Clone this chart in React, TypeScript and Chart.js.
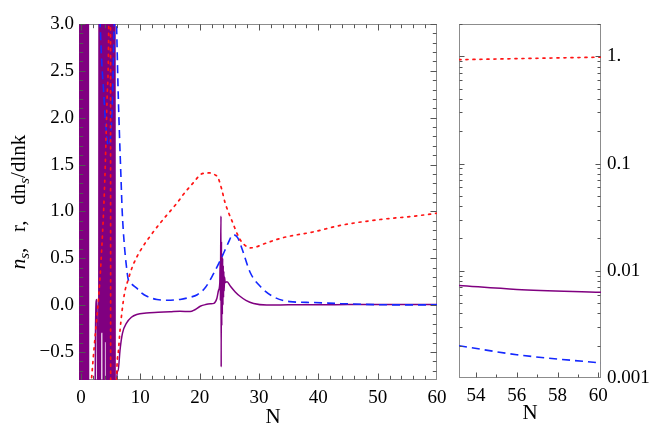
import { useEffect, useRef } from "react"
import { Chart, registerables } from "chart.js"
import type { ChartConfiguration, Plugin } from "chart.js"

Chart.register(...registerables)

// ---- left panel: whole run, N from 0 to 60 ----
// n_s (red, dotted)
const nsX = [1.7, 2.2, 2.55, 3.0, 3.5, 4.0, 4.4, 4.7, 4.95, 5.05, 6.0, 6.3, 6.6, 7.3, 8.0, 8.8, 10.0, 11.6, 13.8, 16.2, 17.5, 19.0, 20.1, 21.0, 21.8, 22.6, 23.1, 23.7, 24.3, 25.5, 26.8, 27.6, 28.5, 29.5, 30.7, 34.1, 39.1, 43.7, 50, 56.3, 60]
const nsY = [-0.85, -0.47, -0.22, 0.1, 0.6, 1.3, 2.2, 3.2, 8, -8, -0.82, -0.5, -0.26, 0.11, 0.28, 0.43, 0.58, 0.73, 0.91, 1.09, 1.2, 1.31, 1.39, 1.41, 1.41, 1.39, 1.36, 1.24, 1.09, 0.89, 0.7, 0.64, 0.61, 0.62, 0.65, 0.72, 0.78, 0.85, 0.91, 0.95, 0.98]

// r (blue, dashed)
const rX = [3.2, 3.5, 3.8, 4.2, 4.6, 5.0, 5.3, 5.6, 5.8, 6.0, 6.3, 6.5, 6.75, 6.95, 7.3, 7.65, 7.98, 8.6, 9.4, 10.2, 11.1, 12.8, 14.5, 16.7, 18.2, 19.6, 21.0, 22.3, 23.8, 24.8, 25.6, 26.4, 27.2, 28.5, 30.2, 32.4, 35.2, 39.1, 43.7, 50, 55, 60]
const rY = [3.05, 2.6, 2.3, 1.9, 1.7, 1.8, 2.2, 3.0, 3.6, 3.0, 2.2, 1.8, 1.35, 1.0, 0.65, 0.42, 0.27, 0.22, 0.18, 0.13, 0.094, 0.059, 0.052, 0.06, 0.08, 0.11, 0.19, 0.33, 0.52, 0.66, 0.75, 0.72, 0.59, 0.35, 0.2, 0.09, 0.037, 0.027, 0.016, 0.004, 0.0018, 0.0014]

// dn_s/dlnk (purple, solid) - wild oscillations at small N and near N = 23.6
const dnsX = [
  -0.33, -0.27, -0.2, -0.14, -0.06, 0.0, 0.08, 0.16, 0.22, 0.3, 0.4, 0.48, 0.56, 0.66, 0.74, 0.84, 0.9, 0.97,
  1.22, 1.32,
  2.2, 2.45, 2.62, 2.78, 2.95,
  3.12, 3.22, 3.38, 3.5, 3.62, 3.85, 3.98, 4.1, 4.22, 4.34, 4.44, 4.54, 4.62, 4.72, 4.82, 4.92, 5.02, 5.12, 5.22, 5.3, 5.38, 5.46, 5.54, 5.62, 5.7, 5.8,
  6.0, 6.25, 6.6, 7.0, 7.7, 8.5, 9.4, 11.0, 13.0, 15.0, 16.7, 18.4, 19.2, 20.1, 21.0, 21.8, 22.4, 22.9, 23.2, 23.4,
  23.45, 23.5, 23.55, 23.6, 23.63, 23.68, 23.73, 23.78, 23.83, 23.88, 23.93, 23.98, 24.03, 24.08, 24.13, 24.2, 24.3,
  24.6, 25.2, 26.0, 26.8, 27.8, 29.1, 31.3, 35, 40, 45, 50, 55, 60,
]
const dnsY = [
  8, -8, 8, -8, 8, -8, 8, -8, 8, -8, 8, -8, 8, -8, 8, -8, 8, -8,
  8, -8,
  -3, -0.3, 0.06, -0.45, -3,
  8, -8, 8, -0.3, 8, -8, 8, -0.4, 8, -8, 8, -8, 8, -8, 8, -8, 8, -8, 8, -8, 8, -8, 8, -8, 8, -8,
  -0.82, -0.7, -0.47, -0.3, -0.19, -0.13, -0.1, -0.085, -0.078, -0.072, -0.066, -0.07, -0.05, -0.013, 0.005, 0.013, 0.018, 0.07, 0.16, 0.24,
  0.45, 0.05, 0.6, 0.95, -0.66, 0.68, -0.22, 0.55, -0.1, 0.5, 0.0, 0.42, 0.08, 0.36, 0.15, 0.3, 0.24,
  0.25, 0.2, 0.14, 0.094, 0.05, 0.016, 0.0, 0.002, 0.004, 0.005, 0.007, 0.007, 0.0063,
]

const leftXTicks = [0, 10, 20, 30, 40, 50, 60]
const leftYTicks = [-0.5, 0, 0.5, 1, 1.5, 2, 2.5, 3]

// ---- right panel: last e-folds on a log scale ----
const zNsX = [53.17, 56.3, 60.13]
const zNsY = [0.93, 0.953, 0.982]
const zRX = [53.17, 56, 60.13]
const zRY = [0.002, 0.00165, 0.00138]
const zDnsX = [53.17, 56, 60.13]
const zDnsY = [0.0073, 0.0067, 0.0063]

const rightXTicks = [54, 56, 58, 60]
const rightYTicks = [0.001, 0.01, 0.1, 1]
const rightYLabels = ["0.001", "0.01", "0.1", "1."]

const serif = "'Liberation Serif', 'Times New Roman', serif"
const tickFont = { family: serif, size: 19 }
const RED = "rgb(255, 20, 20)"
const BLUE = "rgb(20, 40, 255)"
const PURPLE = "rgb(128, 0, 128)"

const xy = (xs: number[], ys: number[]) => xs.map((x, i) => ({ x, y: ys[i] }))

function range(from: number, to: number, step: number) {
  const out: number[] = []
  for (let v = from; v <= to + 1e-9; v += step) out.push(+v.toFixed(4))
  return out
}

type Ticks = { major: number[]; minor: number[] }
type FrameSpec = { top?: Ticks; bottom?: Ticks; left?: Ticks; right?: Ticks }

// Mathematica style frame with inward ticks
function framePlugin(spec: FrameSpec, majorLen: number, minorLen: number): Plugin<"line"> {
  return {
    id: "frame",
    beforeDatasetsDraw(chart) {
      const { ctx, chartArea: a } = chart
      ctx.save()
      ctx.strokeStyle = "#8c8c8c"
      ctx.lineWidth = 1
      ctx.strokeRect(a.left + 0.5, a.top + 0.5, a.width - 1, a.height - 1)
      ctx.restore()
    },
    afterDatasetsDraw(chart) {
      const { ctx, chartArea: a, scales } = chart
      const sx = scales.x
      const sy = scales.y
      ctx.save()
      ctx.strokeStyle = "#555"
      ctx.lineWidth = 1
      ctx.beginPath()
      const vert = (t: Ticks | undefined, y0: number, dir: number) => {
        if (!t) return
        const groups: [number[], number][] = [[t.major, majorLen], [t.minor, minorLen]]
        for (const [vals, len] of groups)
          for (const v of vals) {
            const px = Math.round(sx.getPixelForValue(v)) + 0.5
            if (px < a.left || px > a.right) continue
            ctx.moveTo(px, y0)
            ctx.lineTo(px, y0 + dir * len)
          }
      }
      const horiz = (t: Ticks | undefined, x0: number, dir: number) => {
        if (!t) return
        const groups: [number[], number][] = [[t.major, majorLen], [t.minor, minorLen]]
        for (const [vals, len] of groups)
          for (const v of vals) {
            const py = Math.round(sy.getPixelForValue(v)) + 0.5
            if (py < a.top || py > a.bottom) continue
            ctx.moveTo(x0, py)
            ctx.lineTo(x0 + dir * len, py)
          }
      }
      vert(spec.bottom, a.bottom - 0.5, -1)
      vert(spec.top, a.top + 0.5, 1)
      horiz(spec.left, a.left + 0.5, 1)
      horiz(spec.right, a.right - 0.5, -1)
      ctx.stroke()
      ctx.restore()
    },
  }
}

type Label = { text: string; x: number; y: number }
function labelPlugin(labels: Label[]): Plugin<"line"> {
  return {
    id: "labels",
    afterDraw(chart) {
      const { ctx } = chart
      ctx.save()
      ctx.fillStyle = "#000"
      ctx.font = `21px ${serif}`
      ctx.textAlign = "center"
      ctx.textBaseline = "middle"
      for (const l of labels) ctx.fillText(l.text, l.x, l.y)
      ctx.restore()
    },
  }
}

// rotated y title "n_s,   r,   dn_s/dlnk" with real subscripts
const yTitlePlugin: Plugin<"line"> = {
  id: "yTitle",
  afterDraw(chart) {
    const { ctx, chartArea: a } = chart
    const parts = [
      { t: "n", f: `italic 21px ${serif}`, dy: 0 },
      { t: "s", f: `italic 15px ${serif}`, dy: 4 },
      { t: ",   r,   dn", f: `21px ${serif}`, dy: 0 },
      { t: "s", f: `italic 15px ${serif}`, dy: 4 },
      { t: "/dlnk", f: `21px ${serif}`, dy: 0 },
    ]
    ctx.save()
    ctx.fillStyle = "#000"
    ctx.textBaseline = "alphabetic"
    let total = 0
    for (const p of parts) {
      ctx.font = p.f
      total += ctx.measureText(p.t).width
    }
    ctx.translate(25, (a.top + a.bottom) / 2)
    ctx.rotate(-Math.PI / 2)
    let x = -total / 2
    for (const p of parts) {
      ctx.font = p.f
      ctx.fillText(p.t, x, p.dy)
      x += ctx.measureText(p.t).width
    }
    ctx.restore()
  },
}

const lineStyles = {
  ns: { borderColor: RED, borderWidth: 1.7, borderDash: [2, 5], borderCapStyle: "round" as const },
  r: { borderColor: BLUE, borderWidth: 1.6, borderDash: [8, 5] },
  dns: { borderColor: PURPLE, borderWidth: 1.5 },
}

function leftConfig(): ChartConfiguration<"line"> {
  const logMinor: number[] = []
  return {
    type: "line",
    data: {
      datasets: [
        { label: "n_s", data: xy(nsX, nsY), ...lineStyles.ns },
        { label: "r", data: xy(rX, rY), ...lineStyles.r },
        { label: "dn_s/dlnk", data: xy(dnsX, dnsY), ...lineStyles.dns },
      ],
    },
    options: {
      animation: false,
      responsive: true,
      maintainAspectRatio: false,
      events: [],
      layout: { padding: { left: 0, top: 24, right: 21, bottom: 0 } },
      elements: {
        point: { radius: 0 },
        line: { cubicInterpolationMode: "monotone", capBezierPoints: false },
      },
      plugins: { legend: { display: false }, tooltip: { enabled: false } },
      scales: {
        x: {
          type: "linear",
          min: -0.33,
          max: 60,
          afterBuildTicks: (s) => {
            s.ticks = leftXTicks.map((value) => ({ value }))
          },
          afterFit: (s) => {
            s.height = 49
          },
          ticks: { font: tickFont, color: "#000", padding: 7, maxRotation: 0, autoSkip: false, callback: (v) => String(v) },
          grid: { display: false, drawTicks: false },
          border: { display: false },
        },
        y: {
          type: "linear",
          min: -0.8,
          max: 3,
          afterBuildTicks: (s) => {
            s.ticks = leftYTicks.map((value) => ({ value }))
          },
          afterFit: (s) => {
            s.width = 79
          },
          ticks: {
            font: tickFont,
            color: "#000",
            padding: 5,
            autoSkip: false,
            callback: (v) => {
              const n = Number(v)
              return (n < 0 ? "\u2212" : "") + Math.abs(n).toFixed(1)
            },
          },
          grid: { display: false, drawTicks: false },
          border: { display: false },
        },
      },
    },
    plugins: [
      framePlugin(
        {
          bottom: { major: leftXTicks, minor: range(0, 60, 2) },
          top: { major: leftXTicks, minor: range(0, 60, 2) },
          left: { major: leftYTicks, minor: range(-0.8, 3, 0.1) },
          right: { major: leftYTicks, minor: range(-0.8, 3, 0.1).concat(logMinor) },
        },
        6,
        3.7,
      ),
      labelPlugin([{ text: "N", x: 273, y: 417 }]),
      yTitlePlugin,
    ],
  }
}

function rightConfig(): ChartConfiguration<"line"> {
  const logMinor: number[] = []
  for (const d of rightYTicks) for (let k = 2; k <= 9; k++) if (d * k <= 2) logMinor.push(d * k)
  return {
    type: "line",
    data: {
      datasets: [
        { label: "n_s", data: xy(zNsX, zNsY), ...lineStyles.ns },
        { label: "r", data: xy(zRX, zRY), ...lineStyles.r },
        { label: "dn_s/dlnk", data: xy(zDnsX, zDnsY), ...lineStyles.dns },
      ],
    },
    options: {
      animation: false,
      responsive: true,
      maintainAspectRatio: false,
      events: [],
      layout: { padding: { left: 9, top: 24, right: 0, bottom: 0 } },
      elements: {
        point: { radius: 0 },
        line: { cubicInterpolationMode: "monotone", capBezierPoints: false },
      },
      plugins: { legend: { display: false }, tooltip: { enabled: false } },
      scales: {
        x: {
          type: "linear",
          min: 53.17,
          max: 60.13,
          afterBuildTicks: (s) => {
            s.ticks = rightXTicks.map((value) => ({ value }))
          },
          afterFit: (s) => {
            s.height = 51
          },
          ticks: { font: tickFont, color: "#000", padding: 7, maxRotation: 0, autoSkip: false, callback: (v) => String(v) },
          grid: { display: false, drawTicks: false },
          border: { display: false },
        },
        y: {
          type: "logarithmic",
          position: "right",
          min: 0.001,
          max: 2,
          afterBuildTicks: (s) => {
            s.ticks = rightYTicks.map((value) => ({ value }))
          },
          afterFit: (s) => {
            s.width = 63
          },
          ticks: {
            font: tickFont,
            color: "#000",
            padding: 6,
            autoSkip: false,
            callback: (_v, i) => rightYLabels[i],
          },
          grid: { display: false, drawTicks: false },
          border: { display: false },
        },
      },
    },
    plugins: [
      framePlugin(
        {
          bottom: { major: rightXTicks, minor: [55, 57, 59] },
          left: { major: rightYTicks, minor: logMinor },
          right: { major: rightYTicks, minor: logMinor },
        },
        5,
        3,
      ),
      labelPlugin([{ text: "N", x: 80, y: 413 }]),
    ],
  }
}

function ChartBox({ make, left, width }: { make: () => ChartConfiguration<"line">; left: number; width: number }) {
  const canvasRef = useRef<HTMLCanvasElement>(null)
  const chartRef = useRef<Chart<"line"> | null>(null)

  useEffect(() => {
    if (!canvasRef.current) return
    if (chartRef.current) chartRef.current.destroy()
    chartRef.current = new Chart(canvasRef.current, make())
    return () => {
      if (chartRef.current) {
        chartRef.current.destroy()
        chartRef.current = null
      }
    }
  }, [make])

  return (
    <div style={{ position: "absolute", left, top: 0, width, height: 429 }}>
      <canvas ref={canvasRef} />
    </div>
  )
}

export default function App() {
  return (
    <div style={{ position: "absolute", left: 0, top: 0, width: 664, height: 429, background: "#fff" }}>
      <ChartBox make={leftConfig} left={0} width={458} />
      <ChartBox make={rightConfig} left={450} width={214} />
    </div>
  )
}
